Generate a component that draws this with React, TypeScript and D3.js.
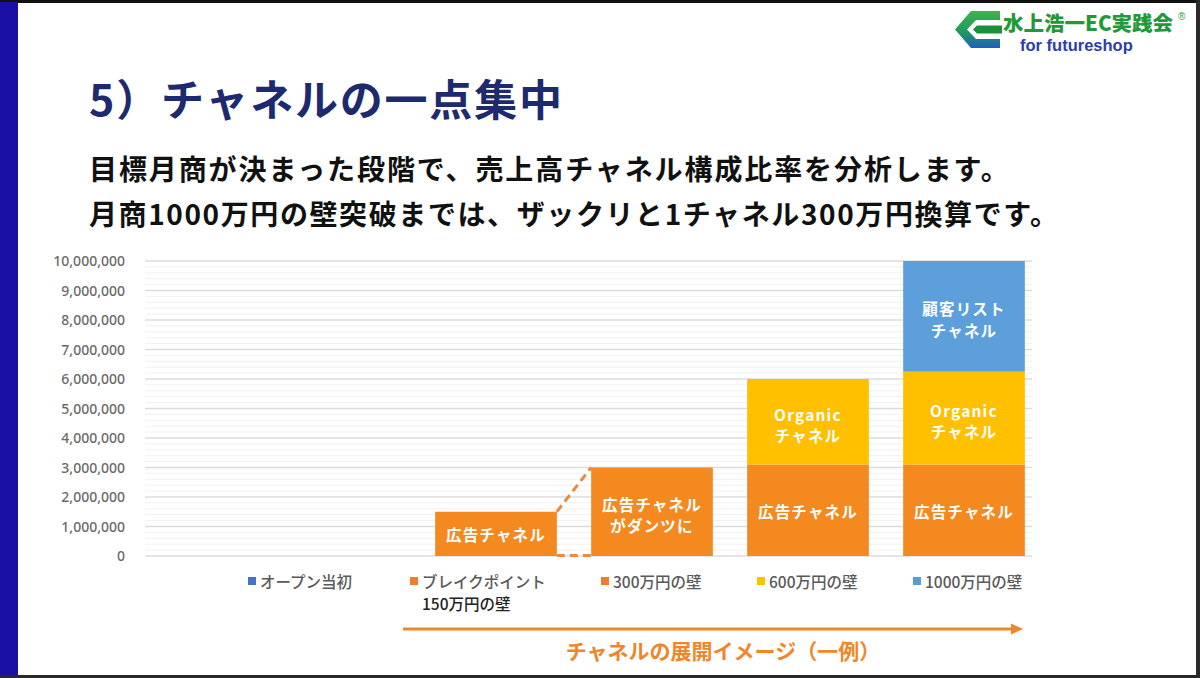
import React, { useEffect, useRef } from 'react';
import * as d3 from 'd3';

// chart values
const categories = ["オープン当初", "ブレイクポイント\n150万円の壁", "300万円の壁", "600万円の壁", "1000万円の壁"];
const adValues = [0, 1500000, 3000000, 3100000, 3100000];
const organicValues = [0, 0, 0, 2900000, 3150000];
const listValues = [0, 0, 0, 0, 3750000];
const adLabels = ["", "広告チャネル", "広告チャネル\nがダンツに", "広告チャネル", "広告チャネル"];
const organicLabels = ["", "", "", "Organic\nチャネル", "Organic\nチャネル"];
const listLabels = ["", "", "", "", "顧客リスト\nチャネル"];
const yTicks = [0, 1000000, 2000000, 3000000, 4000000, 5000000, 6000000, 7000000, 8000000, 9000000, 10000000];

const W = 1200;
const H = 678;
const JP = '"Noto Sans CJK JP", "Noto Sans", sans-serif';
const ORANGE = "#F4891F";
const YELLOW = "#FFC000";
const BLUE = "#5C9FDB";
const legendColors = ["#4472C4", "#ED7D31", "#ED7D31", "#FFC000", "#5B9BD5"];
const legendX = [248, 410, 601, 757, 913]; // legend layout (excel places these itself)

const App: React.FC = () => {
  const ref = useRef<SVGSVGElement | null>(null);

  useEffect(() => {
    document.body.style.margin = "0";
    if (!ref.current) return;
    const svg = d3.select(ref.current);
    svg.selectAll("*").remove();

    // frame
    svg.append("rect").attr("width", W).attr("height", H).attr("fill", "#fff");
    svg.append("rect").attr("x", 0).attr("y", 0).attr("width", W).attr("height", 3).attr("fill", "#111");
    svg.append("rect").attr("x", 0).attr("y", 2).attr("width", 18).attr("height", H).attr("fill", "#1a10a6");
    svg.append("rect").attr("x", 1196).attr("y", 0).attr("width", 4).attr("height", H).attr("fill", "#2a2a2a");
    svg.append("rect").attr("x", 0).attr("y", 675).attr("width", W).attr("height", 3).attr("fill", "#2a2a2a");

    // logo
    const defs = svg.append("defs");
    const grad = defs.append("linearGradient").attr("id", "logoGrad")
      .attr("x1", 0).attr("y1", 0).attr("x2", 0).attr("y2", 1);
    grad.append("stop").attr("offset", "0%").attr("stop-color", "#3bb54a");
    grad.append("stop").attr("offset", "55%").attr("stop-color", "#1f9a5a");
    grad.append("stop").attr("offset", "100%").attr("stop-color", "#1d5fbf");
    svg.append("path")
      .attr("d", "M1000 11 L971 11 L955 29.5 L971 48 L1000 48 L1000 39 L976 39 L967 29.5 L976 20 L1000 20 Z")
      .attr("fill", "url(#logoGrad)");
    svg.append("path")
      .attr("d", "M977 25.5 L1002 25.5 L1002 33.5 L977 33.5 L973 29.5 Z")
      .attr("fill", "#1c8f3c");
    svg.append("text").attr("x", 1003).attr("y", 31)
      .style("font-family", JP).style("font-weight", 900).style("font-size", "20.5px")
      .attr("fill", "#1f9a3a").text("水上浩一EC実践会");
    svg.append("text").attr("x", 1178).attr("y", 20)
      .style("font-family", "Liberation Sans").style("font-size", "10px")
      .attr("fill", "#1f9a3a").text("®");
    svg.append("text").attr("x", 1020).attr("y", 51)
      .style("font-family", "Liberation Sans").style("font-weight", 700).style("font-size", "16.5px")
      .attr("fill", "#2b3dab").text("for futureshop");

    // title and lead text
    svg.append("text").attr("x", 89).attr("y", 116)
      .style("font-family", JP).style("font-weight", 700).style("font-size", "43px")
      .style("letter-spacing", "1.8px")
      .attr("fill", "#1d2a6e").text("5）チャネルの一点集中");
    svg.append("text").attr("x", 89).attr("y", 180)
      .style("font-family", JP).style("font-weight", 700).style("font-size", "28px")
      .style("letter-spacing", "1.9px")
      .attr("fill", "#111").text("目標月商が決まった段階で、売上高チャネル構成比率を分析します。");
    svg.append("text").attr("x", 89).attr("y", 225)
      .style("font-family", JP).style("font-weight", 700).style("font-size", "28px")
      .style("letter-spacing", "1.6px")
      .attr("fill", "#111").text("月商1000万円の壁突破までは、ザックリと1チャネル300万円換算です。");

    // scales
    const y = d3.scaleLinear().domain([0, 10000000]).range([556, 261]);
    const x = d3.scaleBand<string>().domain(categories)
      .range([262, 1042]).paddingInner(0.22).paddingOuter(0.11);
    const gridX0 = 145;
    const gridX1 = 1032;

    // minor + major grid
    const minor = d3.range(0, 10000001, 200000).filter(v => v % 1000000 !== 0);
    svg.append("g").selectAll("line").data(minor).join("line")
      .attr("x1", gridX0).attr("x2", gridX1)
      .attr("y1", d => y(d)).attr("y2", d => y(d))
      .attr("stroke", "#f1f1f1").attr("stroke-width", 1);
    svg.append("g").selectAll("line").data(yTicks).join("line")
      .attr("x1", gridX0).attr("x2", gridX1)
      .attr("y1", d => y(d)).attr("y2", d => y(d))
      .attr("stroke", "#dcdcdc").attr("stroke-width", 1.3);

    const fmt = d3.format(",");
    svg.append("g").selectAll("text").data(yTicks).join("text")
      .attr("x", 125).attr("y", d => y(d)).attr("dy", "0.36em")
      .attr("text-anchor", "end")
      .style("font-family", '"Noto Sans", sans-serif').style("font-size", "14px").style("font-weight", 500)
      .attr("fill", "#6a6a6a")
      .text(d => fmt(d));

    // stacked bars
    const rows = categories.map((c, i) => ({ cat: c, ad: adValues[i], organic: organicValues[i], list: listValues[i] }));
    const keys = ["ad", "organic", "list"];
    const colors: Record<string, string> = { ad: ORANGE, organic: YELLOW, list: BLUE };
    const labels: Record<string, string[]> = { ad: adLabels, organic: organicLabels, list: listLabels };
    const series = d3.stack<any>().keys(keys)(rows);

    const gBars = svg.append("g");
    series.forEach(s => {
      gBars.selectAll(`rect.${s.key}`).data(s).join("rect")
        .attr("class", s.key)
        .attr("x", d => x(d.data.cat)!)
        .attr("width", x.bandwidth())
        .attr("y", d => y(d[1]))
        .attr("height", d => y(d[0]) - y(d[1]))
        .attr("fill", colors[s.key]);
    });

    // segment labels
    const gLab = svg.append("g");
    series.forEach(s => {
      s.forEach((d, i) => {
        const txt = labels[s.key][i];
        if (!txt) return;
        const lines = txt.split("\n");
        const cx = x(d.data.cat)! + x.bandwidth() / 2;
        const cy = (y(d[0]) + y(d[1])) / 2 + (lines.length > 1 ? 4 : 2);
        const t = gLab.append("text")
          .attr("text-anchor", "middle")
          .style("font-family", JP).style("font-weight", 700).style("font-size", "15.5px")
          .style("letter-spacing", "1.2px")
          .attr("fill", "#fff");
        lines.forEach((ln, k) => {
          t.append("tspan").attr("x", cx)
            .attr("y", cy + (k - (lines.length - 1) / 2) * 21.5)
            .attr("dy", "0.36em").text(ln);
        });
      });
    });

    // dashed connectors between the 150万 and 300万 bars
    const b1 = categories[1];
    const b2 = categories[2];
    const x1r = x(b1)! + x.bandwidth();
    const x2l = x(b2)!;
    svg.append("line")
      .attr("x1", x1r).attr("y1", y(adValues[1]))
      .attr("x2", x2l).attr("y2", y(adValues[2]))
      .attr("stroke", "#EE8A3E").attr("stroke-width", 3).attr("stroke-dasharray", "8,5");
    svg.append("line")
      .attr("x1", x1r).attr("y1", y(0) - 0.5)
      .attr("x2", x2l).attr("y2", y(0) - 0.5)
      .attr("stroke", "#EE8A3E").attr("stroke-width", 3).attr("stroke-dasharray", "8,5");

    // legend
    const gLeg = svg.append("g");
    categories.forEach((c, i) => {
      const lx = legendX[i];
      gLeg.append("rect").attr("x", lx).attr("y", 577).attr("width", 8).attr("height", 8)
        .attr("fill", legendColors[i]);
      const lines = c.split("\n");
      lines.forEach((ln, k) => {
        gLeg.append("text")
          .attr("x", lx + 12)
          .attr("y", 582 + k * 22).attr("dy", "0.36em")
          .style("font-family", JP).style("font-weight", 500).style("font-size", "15.5px")
          .attr("fill", k === 0 ? "#5a5a5a" : "#222")
          .text(ln);
      });
    });

    // progress arrow
    svg.append("line").attr("x1", 403).attr("x2", 1013).attr("y1", 629).attr("y2", 629)
      .attr("stroke", "#F0862A").attr("stroke-width", 3);
    svg.append("path").attr("d", "M1011 623.5 L1023 629 L1011 634.5 Z").attr("fill", "#F0862A");
    svg.append("text").attr("x", 723).attr("y", 651).attr("dy", "0.36em")
      .attr("text-anchor", "middle")
      .style("font-family", JP).style("font-weight", 700).style("font-size", "21px")
      .attr("fill", "#F0862A").text("チャネルの展開イメージ（一例）");
  }, []);

  return <svg ref={ref} width={W} height={H} style={{ display: "block" }} />;
};

export default App;
